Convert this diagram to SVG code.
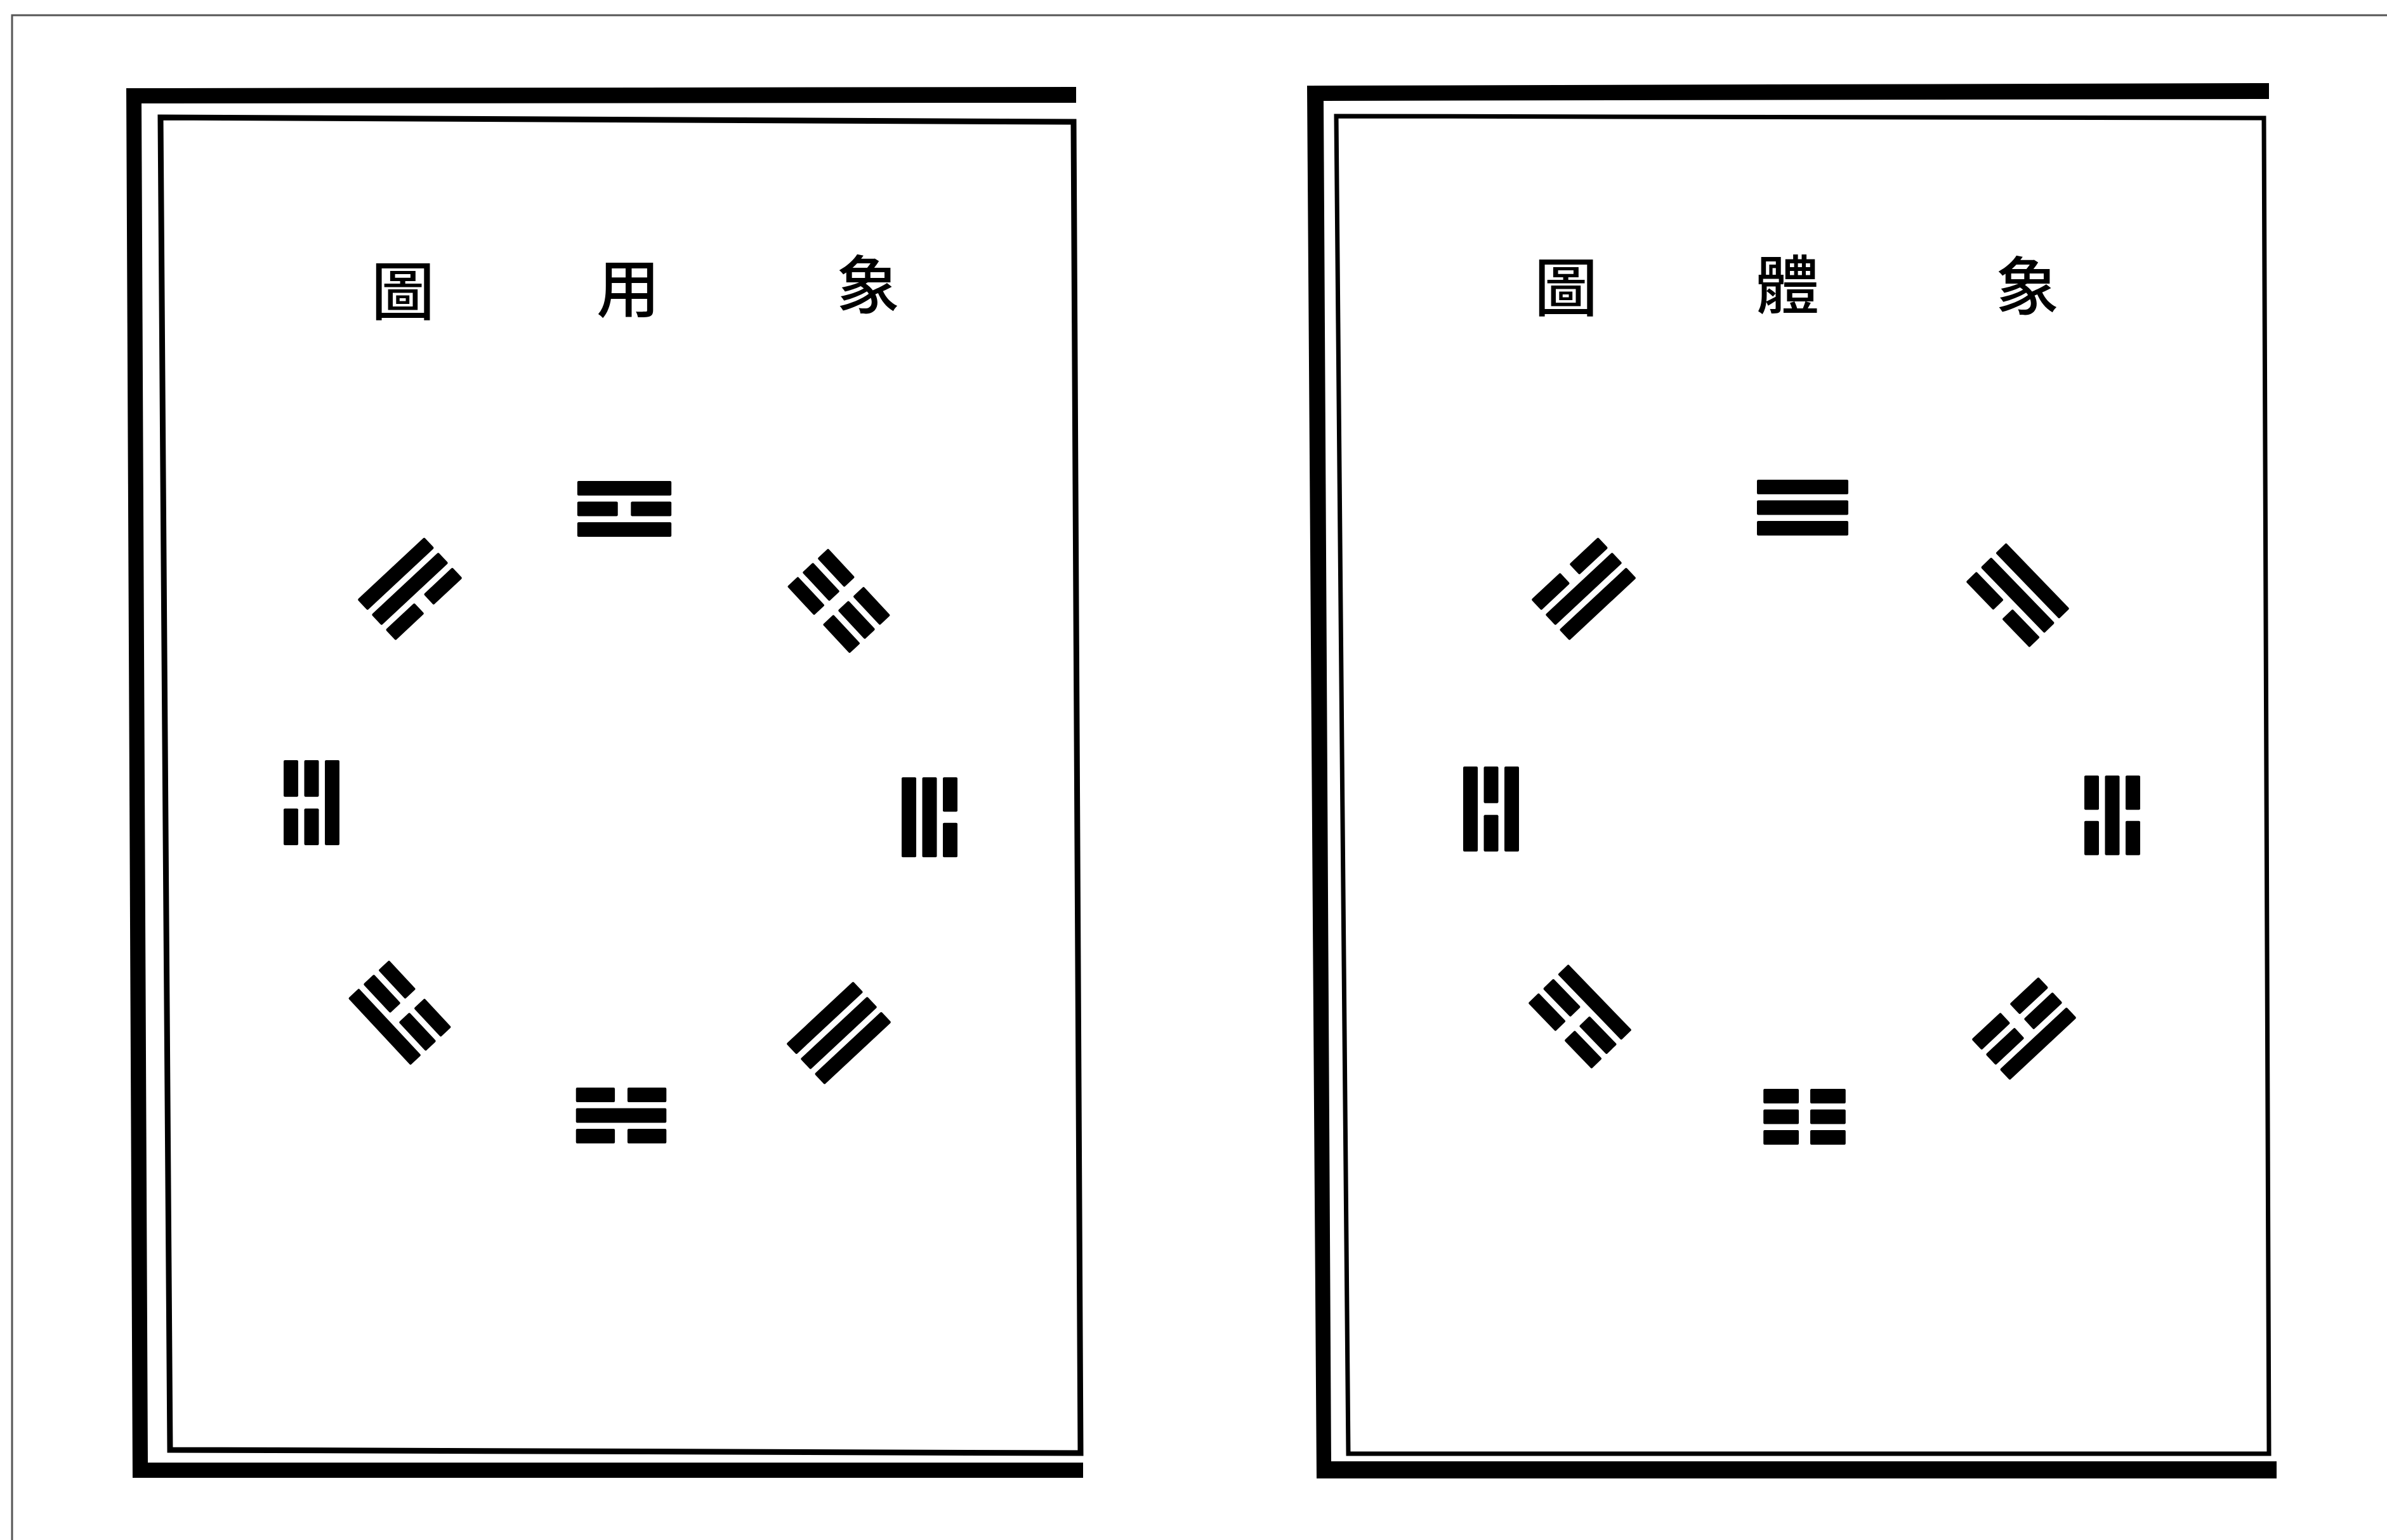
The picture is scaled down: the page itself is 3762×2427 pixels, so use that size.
<svg xmlns="http://www.w3.org/2000/svg" width="3762" height="2427" viewBox="0 0 3762 2427">
<defs>
<style>
.t{font-family:"Noto Sans CJK TC","Noto Sans CJK SC",sans-serif;font-size:100px;font-weight:500;fill:#000;text-anchor:middle}
.thin{fill:none;stroke:#000;stroke-linejoin:miter}
.thick{fill:#000}
</style>
<rect id="s" x="-72" y="-11.5" width="144" height="23" rx="2"/>
<g id="b"><rect x="-72" y="-11.5" width="62" height="23" rx="2"/><rect x="10" y="-11.5" width="62" height="23" rx="2"/></g>
<g id="qian"><use href="#s" y="-32.5"/><use href="#s"/><use href="#s" y="32.5"/></g>
<g id="kun"><use href="#b" y="-32.5"/><use href="#b"/><use href="#b" y="32.5"/></g>
<g id="li"><use href="#s" y="-32.5"/><use href="#b"/><use href="#s" y="32.5"/></g>
<g id="kan"><use href="#b" y="-32.5"/><use href="#s"/><use href="#b" y="32.5"/></g>
<g id="zhen"><use href="#b" y="-32.5"/><use href="#b"/><use href="#s" y="32.5"/></g>
<g id="gen"><use href="#s" y="-32.5"/><use href="#b"/><use href="#b" y="32.5"/></g>
<g id="xun"><use href="#s" y="-32.5"/><use href="#s"/><use href="#b" y="32.5"/></g>
<g id="dui"><use href="#b" y="-32.5"/><use href="#s"/><use href="#s" y="32.5"/></g>
</defs>
<rect width="3762" height="2427" fill="#fff"/>
<path d="M19,2427 V24 H3762" fill="none" stroke="#555" stroke-width="3"/>

<g id="panel-left">
<path class="thick" d="M199,139 L1696,137 L1696,162 L223,163 L233,2305 L1707,2305 L1707,2329 L209,2329 Z"/>
<polygon class="thin" stroke-width="9" points="253,185 1692,192 1703,2290 268,2285"/>
<g id="title-left">
<text class="t" x="635" y="496">圖</text>
<text class="t" x="990" y="492">用</text>
<text class="t" x="1368" y="486">象</text>
</g>
<g id="L-li"><use href="#li" transform="translate(984,802) scale(1.03,1)"/></g>
<g id="L-xun"><use href="#xun" transform="translate(646,928) rotate(-43)"/></g>
<g id="L-kun"><use href="#kun" transform="translate(1322,947) rotate(47)"/></g>
<g id="L-zhen"><use href="#zhen" transform="translate(491,1265) rotate(270) scale(0.93,1)"/></g>
<g id="L-dui"><use href="#dui" transform="translate(1465,1288) rotate(90) scale(0.875,1)"/></g>
<g id="L-gen"><use href="#gen" transform="translate(630,1596) rotate(227)"/></g>
<g id="L-qian"><use href="#qian" transform="translate(1322,1628) rotate(137)"/></g>
<g id="L-kan"><use href="#kan" transform="translate(979,1758) rotate(180) scale(0.99,1)"/></g>
</g>

<g id="panel-right">
<path class="thick" d="M2060,135 L3576,131 L3576,156 L2086,159 L2098,2303 L3588,2303 L3588,2330 L2075,2330 Z"/>
<polygon class="thin" stroke-width="7" points="2106,183 3568,186 3576,2291 2125,2291"/>
<g id="title-right">
<text class="t" x="2468" y="490">圖</text>
<text class="t" x="2817" y="486">體</text>
<text class="t" x="3195" y="488">象</text>
</g>
<g id="R-qian"><use href="#qian" transform="translate(2841,800)"/></g>
<g id="R-dui"><use href="#dui" transform="translate(2496,928) rotate(-43)"/></g>
<g id="R-xun"><use href="#xun" transform="translate(3180,938) rotate(46)"/></g>
<g id="R-li"><use href="#li" transform="translate(2350,1275) rotate(270) scale(0.93,1)"/></g>
<g id="R-kan"><use href="#kan" transform="translate(3329,1285) rotate(90) scale(0.87,1)"/></g>
<g id="R-zhen"><use href="#zhen" transform="translate(2490,1602) rotate(226)"/></g>
<g id="R-gen"><use href="#gen" transform="translate(3190,1621) rotate(137)"/></g>
<g id="R-kun"><use href="#kun" transform="translate(2844,1760) rotate(180) scale(0.9,1)"/></g>
</g>
</svg>
